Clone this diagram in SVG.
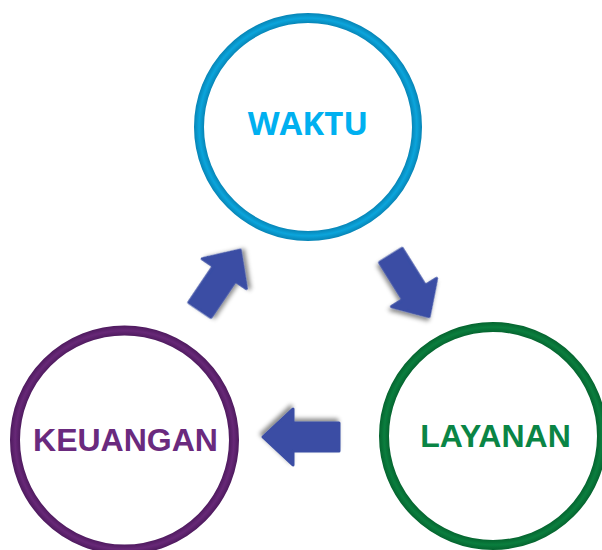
<svg xmlns="http://www.w3.org/2000/svg" width="602" height="550" viewBox="0 0 602 550">
<style>
.ring{fill:#fff;stroke-width:10}
.lbl{font-weight:bold;font-size:32px;text-anchor:middle}
.arrow{fill:#3A4EA4;stroke:#3A4EA4;stroke-width:3;stroke-linejoin:round;filter:url(#sh)}
</style>
<defs>
<filter id="sh" x="-30%" y="-30%" width="160%" height="160%">
<feDropShadow dx="2" dy="3" stdDeviation="2" flood-color="#000" flood-opacity="0.45"/>
</filter>
<radialGradient id="gB" gradientUnits="userSpaceOnUse" cx="308" cy="127" r="114">
<stop offset="0.91" stop-color="#0784B5"/><stop offset="0.955" stop-color="#0BA5DC"/><stop offset="1" stop-color="#0784B5"/>
</radialGradient>
<radialGradient id="gP" gradientUnits="userSpaceOnUse" cx="124.5" cy="440" r="114.5">
<stop offset="0.91" stop-color="#4E1A5E"/><stop offset="0.955" stop-color="#672877"/><stop offset="1" stop-color="#4E1A5E"/>
</radialGradient>
<radialGradient id="gG" gradientUnits="userSpaceOnUse" cx="493" cy="436" r="114">
<stop offset="0.91" stop-color="#05642F"/><stop offset="0.955" stop-color="#0A7E3E"/><stop offset="1" stop-color="#05642F"/>
</radialGradient>
<path id="arr" d="M -38,-14 L 8,-14 L 8,-28 L 38,0 L 8,28 L 8,14 L -38,14 Z"/>
</defs>
<g id="connectors">
<use href="#arr" class="arrow" transform="translate(220,280) rotate(-56) scale(0.95)"/>
<use href="#arr" class="arrow" transform="translate(410,286) rotate(58) scale(0.95)"/>
<use href="#arr" class="arrow" transform="translate(301,437) rotate(180)"/>
</g>
<g id="waktu">
<circle class="ring" cx="308" cy="127" r="109" stroke="url(#gB)"/>
<text class="lbl" x="308" y="135" fill="#00B0F0" font-size="33" style="font-size:33px" font-family="'Open Sans','Liberation Sans',sans-serif">WAKTU</text>
</g>
<g id="keuangan">
<circle class="ring" cx="124.5" cy="440" r="109.5" stroke="url(#gP)"/>
<text class="lbl" x="125.5" y="451" fill="#6A2A7E" font-family="'Liberation Sans',Arial,sans-serif">KEUANGAN</text>
</g>
<g id="layanan">
<circle class="ring" cx="493" cy="436" r="109" stroke="url(#gG)"/>
<text class="lbl" x="495.5" y="447" fill="#0A8545" font-family="'Liberation Sans',Arial,sans-serif">LAYANAN</text>
</g>
</svg>
